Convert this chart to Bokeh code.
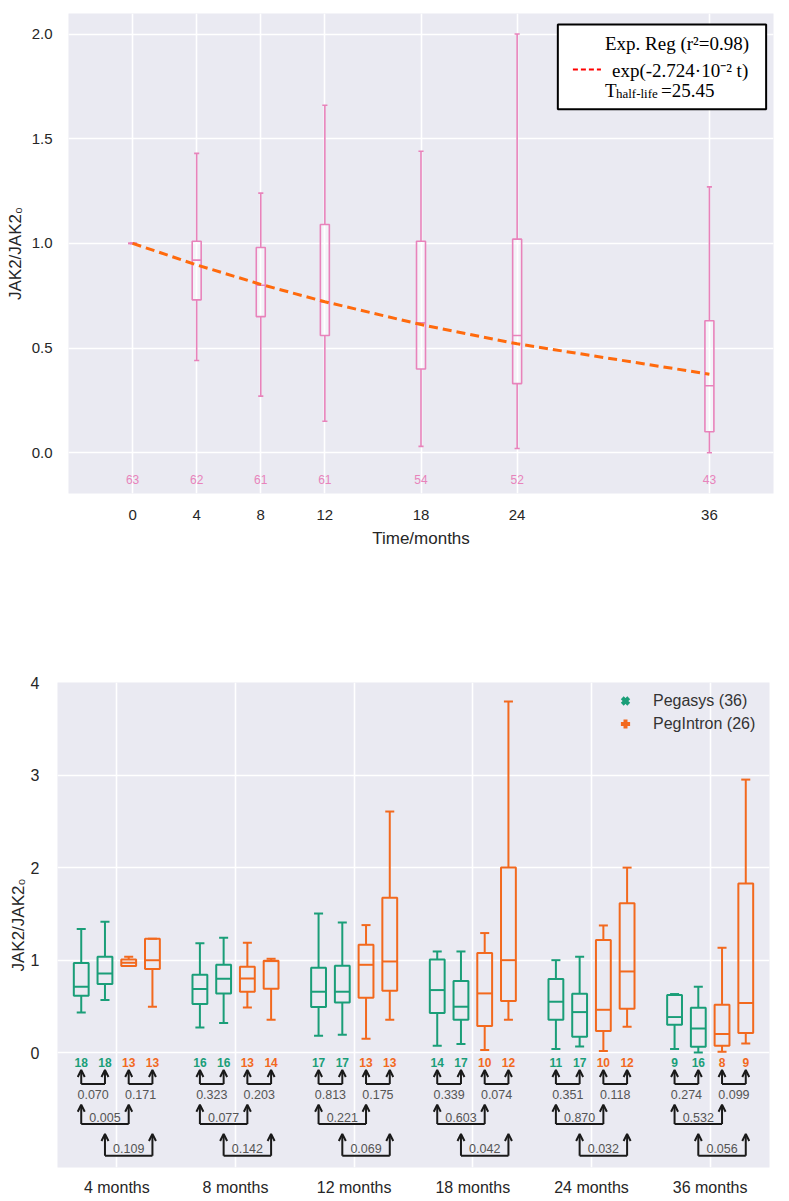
from bokeh.plotting import figure
from bokeh.models import (ColumnDataSource, FixedTicker, BoxAnnotation, Label, Arrow,
                          OpenHead, Legend, LegendItem, NumeralTickFormatter)
from bokeh.embed import file_html
from bokeh.resources import INLINE

# ---------------- data: top panel (all patients) ----------------
months = [0, 4, 8, 12, 18, 24, 36]
all_low = [1.00, 0.44, 0.27, 0.15, 0.03, 0.02, 0.00]
all_q1 = [1.00, 0.73, 0.65, 0.56, 0.40, 0.33, 0.10]
all_med = [1.00, 0.92, 0.80, 0.72, 0.62, 0.56, 0.32]
all_q3 = [1.00, 1.01, 0.98, 1.09, 1.01, 1.02, 0.63]
all_high = [1.00, 1.43, 1.24, 1.66, 1.44, 2.00, 1.27]
all_n = [63, 62, 61, 61, 54, 52, 43]
fit_vals = [1.000, 0.897, 0.804, 0.721, 0.612, 0.520, 0.375]

# ---------------- data: bottom panel (by drug) ----------------
groups = ["4 months", "8 months", "12 months", "18 months", "24 months", "36 months"]
# (low whisker, q1, median, q3, high whisker) per group
pegasys_a = [(0.435, 0.616, 0.713, 0.969, 1.336), (0.273, 0.526, 0.688, 0.842, 1.184),
             (0.184, 0.493, 0.659, 0.918, 1.504), (0.076, 0.428, 0.677, 1.008, 1.094),
             (0.040, 0.356, 0.551, 0.796, 1.000), (0.040, 0.302, 0.385, 0.623, 0.634)]
pegasys_b = [(0.569, 0.742, 0.857, 1.037, 1.415), (0.321, 0.641, 0.799, 0.950, 1.242),
             (0.194, 0.544, 0.659, 0.940, 1.407), (0.094, 0.356, 0.497, 0.774, 1.094),
             (0.068, 0.173, 0.439, 0.637, 1.037), (0.003, 0.065, 0.263, 0.486, 0.713)]
pegintron_a = [(0.936, 0.936, 0.972, 1.008, 1.037), (0.490, 0.659, 0.803, 0.929, 1.188),
               (0.151, 0.594, 0.950, 1.166, 1.379), (0.029, 0.288, 0.641, 1.077, 1.293),
               (0.018, 0.234, 0.464, 1.217, 1.375), (0.010, 0.076, 0.202, 0.518, 1.134)]
pegintron_b = [(0.497, 0.904, 1.000, 1.231, 1.231), (0.356, 0.691, 0.990, 0.994, 1.015),
               (0.356, 0.670, 0.986, 1.674, 2.606), (0.356, 0.558, 1.000, 2.001, 3.794),
               (0.281, 0.475, 0.878, 1.616, 2.000), (0.100, 0.213, 0.537, 1.828, 2.951)]
pegasys_a_n = [18, 16, 17, 14, 11, 9]
pegasys_b_n = [18, 16, 17, 17, 17, 16]
pegintron_a_n = [13, 13, 13, 10, 10, 8]
pegintron_b_n = [13, 14, 13, 12, 12, 9]
p_pegasys = ["0.070", "0.323", "0.813", "0.339", "0.351", "0.274"]
p_pegintron = ["0.171", "0.203", "0.175", "0.074", "0.118", "0.099"]
p_a = ["0.005", "0.077", "0.221", "0.603", "0.870", "0.532"]
p_b = ["0.109", "0.142", "0.069", "0.042", "0.032", "0.056"]

# ---------------- style ----------------
BG = "#EAEAF2"
PINK = "#E883BB"
FIT = "#FF6A0D"
GREEN = "#1A9E78"
ORANGE = "#F2691E"
TXT = "#262626"
SANS = "Liberation Sans"
SERIF = "Liberation Serif"


def style(p, tick_size):
    p.background_fill_color = BG
    p.border_fill_color = "white"
    p.outline_line_color = None
    p.grid.grid_line_color = "white"
    p.grid.grid_line_width = 1.6
    for ax in p.axis:
        ax.axis_line_color = None
        ax.major_tick_line_color = None
        ax.minor_tick_line_color = None
        ax.major_label_text_font = SANS
        ax.major_label_text_font_size = tick_size
        ax.major_label_text_color = TXT
        ax.axis_label_text_font = SANS
        ax.axis_label_text_font_style = "normal"
        ax.axis_label_text_color = TXT
        ax.axis_label_text_font_size = "17px"


# ================= TOP FIGURE =================
p1 = figure(width=781, height=568, x_range=(-4, 40), y_range=(-0.195, 2.098),
            output_backend="svg", toolbar_location=None,
            min_border_left=68, min_border_right=8, min_border_top=13, min_border_bottom=75)
style(p1, "15px")
p1.xaxis.ticker = FixedTicker(ticks=months)
p1.yaxis.ticker = FixedTicker(ticks=[0, 0.5, 1.0, 1.5, 2.0])
p1.yaxis.formatter = NumeralTickFormatter(format="0.0")
p1.xaxis.axis_label = "Time/months"
p1.yaxis.axis_label = "JAK2/JAK2\u2080"
p1.xaxis.major_label_standoff = 10
p1.yaxis.major_label_standoff = 10
p1.xaxis.axis_label_standoff = 6
p1.yaxis.axis_label_standoff = 4

bw1, cw1 = 0.28, 0.16
src1 = ColumnDataSource(dict(
    t=months, lo=all_low, q1=all_q1, med=all_med, q3=all_q3, hi=all_high,
    l=[m - bw1 for m in months], r=[m + bw1 for m in months],
    cl=[m - cw1 for m in months], cr=[m + cw1 for m in months],
    n=[str(v) for v in all_n]))
p1.segment(x0="t", y0="q3", x1="t", y1="hi", source=src1, line_color=PINK, line_width=1.6)
p1.segment(x0="t", y0="lo", x1="t", y1="q1", source=src1, line_color=PINK, line_width=1.6)
p1.segment(x0="cl", y0="hi", x1="cr", y1="hi", source=src1, line_color=PINK, line_width=1.6)
p1.segment(x0="cl", y0="lo", x1="cr", y1="lo", source=src1, line_color=PINK, line_width=1.6)
p1.quad(left="l", right="r", bottom="q1", top="q3", source=src1, fill_color="white",
        fill_alpha=0.45, line_color=PINK, line_width=1.6)
p1.segment(x0="l", y0="med", x1="r", y1="med", source=src1, line_color=PINK, line_width=1.6)
p1.line(x=months, y=fit_vals, line_color=FIT, line_width=3, line_dash="9 5")
p1.text(x="t", y=-0.13, text="n", source=src1, text_color=PINK, text_font_size="12px",
        text_align="center", text_baseline="middle")

# legend box (annotation)
p1.add_layout(BoxAnnotation(left=26.54, right=39.54, top=2.046, bottom=1.640,
                            fill_color="white", fill_alpha=1.0,
                            line_color="black", line_width=2, line_alpha=1.0))
p1.add_layout(Label(x=29.48, y=1.956, text="Exp. Reg (r\u00b2=0.98)", text_font=SERIF,
                    text_font_size="19px", text_baseline="middle", text_color="black"))
p1.add_layout(Arrow(x_start=27.48, y_start=1.83, x_end=29.23, y_end=1.83, end=None,
                    line_color="red", line_width=2, line_dash="5 3"))
p1.add_layout(Label(x=29.92, y=1.827, text="exp(-2.724\u00b710\u207b\u00b2 t)", text_font=SERIF,
                    text_font_size="19px", text_baseline="middle", text_color="black"))
p1.add_layout(Label(x=29.48, y=1.730, text="T", text_font=SERIF,
                    text_font_size="19px", text_baseline="middle", text_color="black"))
p1.add_layout(Label(x=29.48, y=1.714, x_offset=11, text="half-life", text_font=SERIF,
                    text_font_size="13px", text_baseline="middle", text_color="black"))
p1.add_layout(Label(x=29.48, y=1.730, x_offset=56, text="=25.45", text_font=SERIF,
                    text_font_size="19px", text_baseline="middle", text_color="black"))

# ================= BOTTOM FIGURE =================
p2 = figure(width=781, height=630, x_range=(-0.5, 5.5), y_range=(-1.24, 4.0),
            output_backend="svg", toolbar_location=None,
            min_border_left=57, min_border_right=12, min_border_top=114, min_border_bottom=31)
style(p2, "16px")
p2.xaxis.ticker = FixedTicker(ticks=list(range(len(groups))))
p2.xaxis.major_label_overrides = {i: g for i, g in enumerate(groups)}
p2.yaxis.ticker = FixedTicker(ticks=[0, 1, 2, 3, 4])
p2.yaxis.axis_label = "JAK2/JAK2\u2080"
p2.xaxis.major_label_standoff = 5
p2.yaxis.major_label_standoff = 12
p2.yaxis.axis_label_standoff = 0

offsets = [-0.3, -0.1, 0.1, 0.3]
bw2, cw2 = 0.0625, 0.038
series = [(pegasys_a, pegasys_a_n, GREEN), (pegasys_b, pegasys_b_n, GREEN),
          (pegintron_a, pegintron_a_n, ORANGE), (pegintron_b, pegintron_b_n, ORANGE)]
gx = list(range(len(groups)))
for (stats, counts, col), off in zip(series, offsets):
    xs = [g + off for g in gx]
    src = ColumnDataSource(dict(
        x=xs, l=[x - bw2 for x in xs], r=[x + bw2 for x in xs],
        cl=[x - cw2 for x in xs], cr=[x + cw2 for x in xs],
        lo=[s[0] for s in stats], q1=[s[1] for s in stats], med=[s[2] for s in stats],
        q3=[s[3] for s in stats], hi=[s[4] for s in stats],
        n=[str(c) for c in counts]))
    p2.segment(x0="x", y0="q3", x1="x", y1="hi", source=src, line_color=col, line_width=2)
    p2.segment(x0="x", y0="lo", x1="x", y1="q1", source=src, line_color=col, line_width=2)
    p2.segment(x0="cl", y0="hi", x1="cr", y1="hi", source=src, line_color=col, line_width=2)
    p2.segment(x0="cl", y0="lo", x1="cr", y1="lo", source=src, line_color=col, line_width=2)
    p2.quad(left="l", right="r", bottom="q1", top="q3", source=src, fill_alpha=0,
            line_color=col, line_width=2)
    p2.segment(x0="l", y0="med", x1="r", y1="med", source=src, line_color=col, line_width=2)
    p2.text(x="x", y=-0.105, text="n", source=src, text_color=col, text_font_size="12px",
            text_font_style="bold", text_align="center", text_baseline="middle")

# significance brackets: (slot i, slot j, p-values, head level, base level, text level)
brackets = [(0, 1, p_pegasys, -0.187, -0.338, -0.446),
            (2, 3, p_pegintron, -0.187, -0.338, -0.446),
            (0, 2, p_a, -0.562, -0.770, -0.699),
            (1, 3, p_b, -0.878, -1.112, -1.040)]
for i, j, pv, yh, yb, yt in brackets:
    x1 = [g + offsets[i] for g in gx]
    x2 = [g + offsets[j] for g in gx]
    p2.segment(x0=x1, y0=[yb] * len(gx), x1=x2, y1=[yb] * len(gx),
               line_color="#1a1a1a", line_width=2)
    asrc = ColumnDataSource(dict(xs=x1 + x2, ys=[yb] * (2 * len(gx)), ye=[yh] * (2 * len(gx))))
    p2.add_layout(Arrow(source=asrc, x_start="xs", y_start="ys", x_end="xs", y_end="ye",
                        line_color="#1a1a1a", line_width=2,
                        end=OpenHead(size=7, line_width=2, line_color="#1a1a1a")))
    p2.text(x=[(a + b) / 2 for a, b in zip(x1, x2)], y=[yt] * len(gx), text=pv,
            text_color="#555555", text_font_size="12.5px", text_align="center",
            text_baseline="middle")

# legend (renderers hold a single NaN point so that only the legend glyph shows)
nan = float("nan")
r_g = p2.scatter(x=[nan], y=[nan], marker="x", size=11, line_width=4, line_color=GREEN)
r_o = p2.scatter(x=[nan], y=[nan], marker="cross", size=12, line_width=4, line_color=ORANGE)
leg = Legend(items=[LegendItem(label="Pegasys (36)", renderers=[r_g]),
                    LegendItem(label="PegIntron (26)", renderers=[r_o])],
             location="top_right", background_fill_alpha=0, border_line_alpha=0,
             label_text_font=SANS, label_text_font_size="16px", label_text_color="#333333",
             glyph_width=28, glyph_height=23, label_height=23, label_width=109,
             label_standoff=14, spacing=0, padding=3, margin=4)
p2.add_layout(leg)

open("out.html", "w").write(file_html([p1, p2], INLINE))
